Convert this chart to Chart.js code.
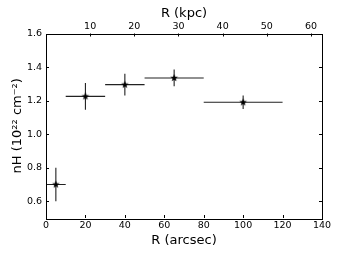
<!DOCTYPE html>
<html>
<head>
<meta charset="utf-8">
<script src="https://cdn.jsdelivr.net/npm/chart.js@4"></script>
<style>
  html, body { margin: 0; padding: 0; background: #fff; }
  #wrap { width: 339px; height: 255px; }
</style>
</head>
<body>
<div id="wrap"><canvas id="myChart" width="339" height="255"></canvas></div>
<script>
// radius bins (arcsec) and half-widths
const rArcsec = [5, 20, 40, 65, 100];
const rErr = [5, 10, 10, 15, 20];
// column density, 10^22 cm^-2
const nH = [0.70, 1.225, 1.295, 1.335, 1.19];
const nHErr = [0.10, 0.08, 0.065, 0.05, 0.04];

const xTicks = [0, 20, 40, 60, 80, 100, 120, 140];
const yTicks = [0.6, 0.8, 1.0, 1.2, 1.4, 1.6];
const kpcTicks = [10, 20, 30, 40, 50, 60];
const kpcPerArcsec = 0.4464;

const FONT = "'DejaVu Sans', sans-serif";

// little filled star, like the matplotlib '*' marker
function starMarker(r) {
  const c = document.createElement("canvas");
  const s = Math.ceil(r * 2 + 2);
  c.width = s; c.height = s;
  const g = c.getContext("2d");
  g.translate(s / 2, s / 2);
  g.beginPath();
  for (let i = 0; i < 10; i++) {
    const rad = i % 2 === 0 ? r : r * 0.42;
    const a = -Math.PI / 2 + i * Math.PI / 5;
    g.lineTo(rad * Math.cos(a), rad * Math.sin(a));
  }
  g.closePath();
  g.fillStyle = "#000";
  g.fill();
  return c;
}

const errorBars = {
  id: "errorBars",
  beforeDatasetsDraw(chart) {
    const c = chart.ctx, x = chart.scales.x, y = chart.scales.y;
    c.save();
    c.strokeStyle = "#222";
    c.lineWidth = 1.1;
    rArcsec.forEach((r, i) => {
      const px = x.getPixelForValue(r), py = y.getPixelForValue(nH[i]);
      c.beginPath();
      c.moveTo(x.getPixelForValue(r - rErr[i]), py);
      c.lineTo(x.getPixelForValue(r + rErr[i]), py);
      c.moveTo(px, y.getPixelForValue(nH[i] - nHErr[i]));
      c.lineTo(px, y.getPixelForValue(nH[i] + nHErr[i]));
      c.stroke();
    });
    c.restore();
  }
};

// frame plus inward ticks on all four sides
const frame = {
  id: "frame",
  afterDraw(chart) {
    const c = chart.ctx, a = chart.chartArea, s = chart.scales;
    const L = 3;
    c.save();
    c.strokeStyle = "#000";
    c.lineWidth = 1;
    c.beginPath();
    xTicks.forEach(v => {
      const p = Math.round(s.x.getPixelForValue(v)) + 0.5;
      c.moveTo(p, a.bottom); c.lineTo(p, a.bottom - L);
    });
    kpcTicks.forEach(v => {
      const p = Math.round(s.x2.getPixelForValue(v)) + 0.5;
      c.moveTo(p, a.top); c.lineTo(p, a.top + L);
    });
    yTicks.forEach(v => {
      const p = Math.round(s.y.getPixelForValue(v)) + 0.5;
      c.moveTo(a.left, p); c.lineTo(a.left + L, p);
      c.moveTo(a.right, p); c.lineTo(a.right - L, p);
    });
    c.stroke();
    c.strokeRect(Math.round(a.left) + 0.5, Math.round(a.top) + 0.5,
      Math.round(a.right - a.left), Math.round(a.bottom - a.top));
    c.restore();
  }
};

const ctx = document.getElementById("myChart");
new Chart(ctx, {
  type: "scatter",
  data: {
    datasets: [{
      data: rArcsec.map((r, i) => ({ x: r, y: nH[i] })),
      pointStyle: starMarker(4),
      pointRadius: 4,
      xAxisID: "x",
      yAxisID: "y"
    }]
  },
  options: {
    responsive: false,
    animation: false,
    layout: { padding: { left: 0, right: 17, top: 0, bottom: 0 } },
    plugins: { legend: { display: false }, tooltip: { enabled: false } },
    scales: {
      x: {
        type: "linear", position: "bottom", min: 0, max: 140,
        afterBuildTicks: s => { s.ticks = xTicks.map(v => ({ value: v })); },
        afterFit: s => { s.height = 37; },
        grid: { display: false, drawTicks: false },
        border: { display: false },
        ticks: { color: "#000", padding: 1.5, font: { family: FONT, size: 9.5 } },
        title: { display: true, text: "R (arcsec)", color: "#000",
          padding: { top: 0, bottom: 6.5 }, font: { family: FONT, size: 13 } }
      },
      x2: {
        type: "linear", position: "top", min: 0, max: 140 * kpcPerArcsec,
        afterBuildTicks: s => { s.ticks = kpcTicks.map(v => ({ value: v })); },
        afterFit: s => { s.height = 33.5; },
        grid: { display: false, drawTicks: false },
        border: { display: false },
        ticks: { color: "#000", padding: 1.5, font: { family: FONT, size: 9.5 } },
        title: { display: true, text: "R (kpc)", color: "#000",
          padding: { top: 6, bottom: 0 }, font: { family: FONT, size: 13 } }
      },
      y: {
        type: "linear", position: "left", min: 0.5, max: 1.6,
        afterBuildTicks: s => { s.ticks = yTicks.map(v => ({ value: v })); },
        afterFit: s => { s.width = 46; },
        grid: { display: false, drawTicks: false },
        border: { display: false },
        ticks: { color: "#000", padding: 4, font: { family: FONT, size: 9.5 },
          callback: v => v.toFixed(1) },
        title: { display: true, text: "nH (10²² cm⁻²)", color: "#000",
          padding: { top: 10, bottom: 0 }, font: { family: FONT, size: 13 } }
      }
    }
  },
  plugins: [errorBars, frame]
});
</script>
</body>
</html>
